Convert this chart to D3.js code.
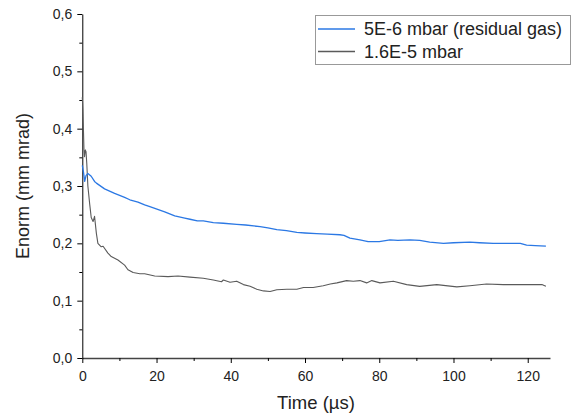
<!DOCTYPE html>
<html>
<head>
<meta charset="utf-8">
<script src="https://cdn.jsdelivr.net/npm/d3@7"></script>
<style>
  body { margin: 0; background: #fff; }
  svg { font-family: "Liberation Sans", Arial, sans-serif; }
</style>
</head>
<body>
<svg id="chart"></svg>
<script>
// series
var blueTime = [0, 0.3, 0.65, 1.0, 1.5, 2.4, 3.3, 3.8, 6, 8.7, 11.4, 12.8, 15, 16.8, 18.2, 22.2, 24.9, 27.6, 29, 31,
    32.6, 35.3, 38, 41.6, 44, 47.9, 50, 52.4, 55, 57.8, 60, 63.1, 66, 69.4, 70.5, 72.1, 74.8, 77, 80, 82.9,
    85, 88.3, 90.9, 93.6, 97.3, 100, 104.4, 107, 110.7, 114, 118, 119.7, 122, 124.9];
var blueEnorm = [0.336, 0.325, 0.308, 0.318, 0.322, 0.317, 0.308, 0.305, 0.295, 0.287, 0.280, 0.276, 0.272, 0.267, 0.264, 0.255, 0.248, 0.244, 0.242, 0.239,
    0.239, 0.236, 0.235, 0.233, 0.232, 0.229, 0.227, 0.224, 0.222, 0.219, 0.218, 0.217, 0.216, 0.215, 0.214, 0.209, 0.206, 0.203, 0.203, 0.206,
    0.205, 0.206, 0.205, 0.202, 0.200, 0.201, 0.202, 0.201, 0.200, 0.200, 0.200, 0.197, 0.196, 0.195];

var greyTime = [0, 0.15, 0.3, 0.45, 0.6, 0.8, 1.0, 1.2, 1.5, 2.0, 2.4, 2.9, 3.3, 3.8, 4.2, 5.1, 5.6, 6.9, 7.8, 9.6,
    11.4, 12.3, 13.7, 15.5, 16.8, 19.5, 23.1, 25.8, 29, 32.6, 35.3, 37.5, 38, 39.8, 41.6, 43.4, 45.2, 47, 48.8, 50.6,
    52.4, 55.1, 57.8, 59.6, 62.2, 64.9, 66.8, 68.6, 71.2, 73, 74.8, 76.6, 78, 80.2, 83.8, 87.4, 90.9, 95.5, 100.9, 104.4,
    108.9, 113.4, 119.7, 123.8, 124.9];
var greyEnorm = [0.455, 0.433, 0.400, 0.363, 0.351, 0.363, 0.360, 0.340, 0.300, 0.268, 0.245, 0.238, 0.247, 0.217, 0.200, 0.194, 0.195, 0.183, 0.177, 0.171,
    0.162, 0.154, 0.149, 0.147, 0.147, 0.143, 0.142, 0.143, 0.141, 0.139, 0.136, 0.133, 0.136, 0.132, 0.134, 0.128, 0.125, 0.120, 0.117, 0.116,
    0.119, 0.120, 0.120, 0.123, 0.123, 0.126, 0.129, 0.131, 0.135, 0.134, 0.135, 0.131, 0.135, 0.131, 0.134, 0.128, 0.125, 0.128, 0.124, 0.126,
    0.129, 0.128, 0.128, 0.128, 0.125];

var seriesNames = ["5E-6 mbar (residual gas)", "1.6E-5 mbar"];
var seriesColors = ["#2b78e4", "#5a5a5a"];
var xTicks = [0, 20, 40, 60, 80, 100, 120];
var xMinor = [10, 30, 50, 70, 90, 110];
var yTicks = [0, 0.1, 0.2, 0.3, 0.4, 0.5, 0.6];
var yMinor = [0.05, 0.15, 0.25, 0.35, 0.45, 0.55];

var width = 572;
var height = 418;

var svg = d3.select('#chart')
    .attr('width', width)
    .attr('height', height);

var xScale = d3.scaleLinear().domain([0, 126]).range([82.3, 550]);
var yScale = d3.scaleLinear().domain([0, 0.6]).range([358, 14]);

var comma = d3.formatLocale({decimal: ",", thousands: ".", grouping: [3], currency: ["", ""]}).format(".1f");

// x axis
svg.append("g")
    .attr("transform", "translate(0," + yScale(0) + ")")
    .call(d3.axisBottom(xScale).tickValues(xTicks).tickSize(5).tickPadding(8).tickSizeOuter(0))
    .call(function (g) {
        g.select(".domain").attr("stroke", "#444").attr("stroke-width", 1.5);
        g.selectAll("text").style("font-size", "14px").attr("fill", "#222");
    });
svg.append("g")
    .attr("transform", "translate(0," + yScale(0) + ")")
    .call(d3.axisBottom(xScale).tickValues(xMinor).tickSize(3).tickFormat(""))
    .call(function (g) { g.select(".domain").remove(); });

// y axis
svg.append("g")
    .attr("transform", "translate(" + xScale(0) + ",0)")
    .call(d3.axisLeft(yScale).tickValues(yTicks).tickSize(5).tickPadding(5).tickSizeOuter(0).tickFormat(comma))
    .call(function (g) {
        g.selectAll("text").style("font-size", "14px").attr("fill", "#222");
    });
svg.append("g")
    .attr("transform", "translate(" + xScale(0) + ",0)")
    .call(d3.axisLeft(yScale).tickValues(yMinor).tickSize(3).tickFormat(""))
    .call(function (g) { g.select(".domain").remove(); });

// axis titles
svg.append("text")
    .attr("x", 316)
    .attr("y", 409)
    .attr("text-anchor", "middle")
    .style("font-size", "18.5px")
    .attr("fill", "#222")
    .text("Time (µs)");

svg.append("text")
    .attr("transform", "translate(29," + yScale(0.3) + ")rotate(-90)")
    .attr("text-anchor", "middle")
    .style("font-size", "18px")
    .attr("fill", "#222")
    .text("Enorm (mm mrad)");

// lines
var line = d3.line()
    .x(function (d) { return xScale(d[0]); })
    .y(function (d) { return yScale(d[1]); });

var series = [
    d3.zip(greyTime, greyEnorm),
    d3.zip(blueTime, blueEnorm)
];
var order = [1, 0];

series.forEach(function (data, i) {
    svg.append("path")
        .datum(data)
        .attr("fill", "none")
        .attr("stroke", seriesColors[order[i]])
        .attr("stroke-width", order[i] === 0 ? 1.3 : 1.1)
        .attr("stroke-linejoin", "round")
        .attr("d", line);
});

// legend
var legend = svg.append("g");
legend.append("rect")
    .attr("x", 315.5)
    .attr("y", 15.5)
    .attr("width", 255)
    .attr("height", 49)
    .attr("fill", "#fff")
    .attr("stroke", "#999");

seriesNames.forEach(function (name, i) {
    var y = 29 + i * 22.5;
    legend.append("line")
        .attr("x1", 318).attr("x2", 355)
        .attr("y1", y).attr("y2", y)
        .attr("stroke", seriesColors[i])
        .attr("stroke-width", 1.3);
    legend.append("text")
        .attr("x", 364)
        .attr("y", y)
        .attr("dy", "0.35em")
        .style("font-size", "18px")
        .attr("fill", "#222")
        .text(name);
});
</script>
</body>
</html>
